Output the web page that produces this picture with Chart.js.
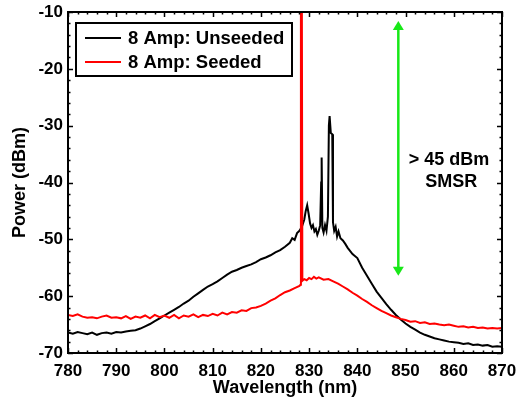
<!DOCTYPE html>
<html><head><meta charset="utf-8">
<script src="https://cdn.jsdelivr.net/npm/chart.js@4/dist/chart.umd.min.js"></script>
<style>html,body{margin:0;padding:0;background:#fff}#wrap{width:520px;height:402px}</style>
</head><body><div id="wrap"><canvas id="c" width="520" height="402"></canvas></div>
<script>
const seriesNames = ['8 Amp: Unseeded', '8 Amp: Seeded'];
const unseededWl = [780,781,782,783,784,785,786,787,788,789,790,791,792,793,794,795,796,797,798,799,800,801,802,803,804,805,806,807,808,809,810,811,812,813,814,815,816,817,818,819,820,821,822,823,824,825,826,826.5,827,827.5,828,828.5,829,829.3,829.6,829.9,830.2,830.5,830.8,831.1,831.4,831.7,832.0,832.3,832.5,832.6,832.75,833.0,833.3,833.6,833.9,834.1,834.25,834.5,834.8,834.95,835.2,835.5,835.8,836.1,836.5,837,837.5,838,839,840,841,842,843,844,845,846,847,848,849,850,851,852,853,854,855,856,857,858,859,860,861,862,863,864,865,866,867,868,869,870];
const unseededPow = [-66.4,-66.6,-66.3,-66.5,-66.7,-66.4,-66.8,-66.5,-66.4,-66.6,-66.3,-66.4,-66.2,-66.1,-66.0,-65.7,-65.3,-64.9,-64.4,-63.9,-63.4,-62.9,-62.4,-61.9,-61.3,-60.8,-60.1,-59.5,-58.9,-58.3,-57.9,-57.4,-56.8,-56.2,-55.7,-55.4,-55.0,-54.7,-54.4,-54.0,-53.5,-53.2,-52.8,-52.3,-51.9,-51.3,-50.6,-49.8,-50.1,-48.9,-48.5,-47.8,-46.5,-45.0,-44.0,-45.5,-47.2,-48.0,-47.5,-48.6,-48.2,-49.2,-48.5,-47.5,-40.0,-35.6,-48.0,-48.8,-47.5,-48.5,-46.0,-30.0,-28.3,-31.3,-31.5,-47.0,-48.5,-47.8,-49.5,-48.6,-49.8,-50.2,-50.8,-51.5,-52.6,-53.3,-55.0,-56.4,-57.8,-59.2,-60.3,-61.4,-62.4,-63.3,-64.1,-64.8,-65.4,-65.9,-66.4,-66.8,-67.1,-67.4,-67.6,-67.8,-68.0,-68.1,-68.2,-68.4,-68.3,-68.6,-68.5,-68.7,-68.6,-68.9,-68.8,-68.9];
const seededWl = [780,781,782,783,784,785,786,787,788,789,790,791,792,793,794,795,796,797,798,799,800,801,802,803,804,805,806,807,808,809,810,811,812,813,814,815,816,817,818,819,820,821,822,823,824,825,826,827,828,828.2,828.3,828.5,828.6,829,829.5,830,830.5,831,831.5,832,833,834,835,836,837,838,839,840,841,842,843,844,845,846,847,848,849,850,851,852,853,854,855,856,857,858,859,860,861,862,863,864,865,866,867,868,869,870];
const seededPow = [-63.3,-63.5,-63.2,-63.6,-63.8,-63.7,-63.9,-63.6,-63.4,-63.8,-63.7,-63.9,-63.5,-64.0,-63.6,-63.8,-63.4,-63.9,-63.3,-63.7,-63.4,-63.8,-63.3,-63.9,-63.4,-63.6,-63.2,-63.7,-63.3,-63.5,-63.1,-63.4,-62.9,-63.2,-62.8,-62.9,-62.5,-62.6,-62.1,-62.0,-61.7,-61.3,-60.8,-60.4,-59.8,-59.3,-59.0,-58.6,-58.2,-58.0,-10,-10,-57.3,-57.0,-57.2,-56.8,-57.0,-56.6,-56.9,-56.7,-57.1,-57.0,-57.4,-57.8,-58.3,-58.8,-59.4,-59.9,-60.5,-61.0,-61.6,-62.1,-62.6,-63.0,-63.4,-63.7,-64.0,-64.2,-64.5,-64.4,-64.7,-64.6,-64.9,-64.8,-65.0,-65.1,-65.0,-65.2,-65.4,-65.3,-65.5,-65.4,-65.6,-65.5,-65.7,-65.6,-65.7,-65.6];
const xTicks = [780,790,800,810,820,830,840,850,860,870];
const yTicks = [-70,-60,-50,-40,-30,-20,-10];
const xTitle = 'Wavelength (nm)';
const yTitle = 'Power (dBm)';
const arrowWl = 848.5, arrowTop = -11.6, arrowBottom = -56.4;
const noteLines = ['> 45 dBm', 'SMSR'];
const noteWl = [859.0, 859.5], notePow = [-36.1, -40.0];

const toPts = (xs, ys) => xs.map((x, i) => ({x, y: ys[i]}));
const FONT = '"Liberation Sans", Arial, sans-serif';

const decor = {
  id: 'decor',
  afterDatasetsDraw(chart) {
    const {ctx, chartArea: a, scales: {x, y}} = chart;
    ctx.save();
    ctx.strokeStyle = '#000'; ctx.lineWidth = 2;
    ctx.strokeRect(a.left, a.top, a.right - a.left, a.bottom - a.top);
    ctx.lineWidth = 1.5;
    ctx.beginPath();
    for (let v = 780; v <= 870; v += 2) {
      const px = Math.round(x.getPixelForValue(v)) + 0.5;
      const len = (v % 10 === 0) ? 5 : 2.5;
      ctx.moveTo(px, a.bottom); ctx.lineTo(px, a.bottom - len);
      ctx.moveTo(px, a.top); ctx.lineTo(px, a.top + len);
    }
    for (let v = -70; v <= -10; v += 2) {
      const py = Math.round(y.getPixelForValue(v)) + 0.5;
      const len = (v % 10 === 0) ? 5 : 2.5;
      ctx.moveTo(a.left, py); ctx.lineTo(a.left + len, py);
      ctx.moveTo(a.right, py); ctx.lineTo(a.right - len, py);
    }
    ctx.stroke();
    const ax = x.getPixelForValue(arrowWl);
    const at = y.getPixelForValue(arrowTop), ab = y.getPixelForValue(arrowBottom);
    ctx.strokeStyle = '#18e818'; ctx.fillStyle = '#18e818'; ctx.lineWidth = 2.5;
    ctx.beginPath(); ctx.moveTo(ax, at + 6); ctx.lineTo(ax, ab - 6); ctx.stroke();
    ctx.beginPath(); ctx.moveTo(ax, at); ctx.lineTo(ax - 5.5, at + 9); ctx.lineTo(ax + 5.5, at + 9); ctx.closePath(); ctx.fill();
    ctx.beginPath(); ctx.moveTo(ax, ab); ctx.lineTo(ax - 5.5, ab - 9); ctx.lineTo(ax + 5.5, ab - 9); ctx.closePath(); ctx.fill();
    ctx.fillStyle = '#000'; ctx.font = 'bold 18px ' + FONT;
    ctx.textAlign = 'center'; ctx.textBaseline = 'middle';
    noteLines.forEach((t, i) => ctx.fillText(t, x.getPixelForValue(noteWl[i]), y.getPixelForValue(notePow[i])));
    const lx = 76, ly = 23, lw = 216, lh = 53;
    ctx.fillStyle = '#fff'; ctx.fillRect(lx, ly, lw, lh);
    ctx.strokeStyle = '#000'; ctx.lineWidth = 2; ctx.strokeRect(lx, ly, lw, lh);
    const cols = ['#000', '#ff0000'];
    ctx.textAlign = 'left'; ctx.font = 'bold 18.5px ' + FONT;
    seriesNames.forEach((n, i) => {
      const yy = ly + 15 + i * 24;
      ctx.strokeStyle = cols[i]; ctx.lineWidth = 2;
      ctx.beginPath(); ctx.moveTo(lx + 9, yy); ctx.lineTo(lx + 45, yy); ctx.stroke();
      ctx.fillStyle = '#000'; ctx.fillText(n, lx + 52, yy + 1);
    });
    ctx.restore();
  }
};

new Chart(document.getElementById('c'), {
  type: 'scatter',
  data: {
    datasets: [
      {label: seriesNames[0], data: toPts(unseededWl, unseededPow), showLine: true, borderColor: '#000', borderWidth: 2, pointRadius: 0, order: 2},
      {label: seriesNames[1], data: toPts(seededWl, seededPow), showLine: true, borderColor: '#ff0000', borderWidth: 2, pointRadius: 0, order: 1}
    ]
  },
  options: {
    responsive: false, animation: false, devicePixelRatio: 1,
    layout: {padding: {top: 12, right: 18, left: 0, bottom: 0}},
    plugins: {legend: {display: false}, tooltip: {enabled: false}},
    scales: {
      x: {
        type: 'linear', min: 780, max: 870,
        afterBuildTicks: s => { s.ticks = xTicks.map(v => ({value: v})); },
        afterFit: s => { s.height = 49; s.paddingLeft = 0; s.paddingRight = 0; },
        grid: {display: false, drawTicks: false}, border: {display: false},
        ticks: {color: '#000', font: {family: FONT, size: 17, weight: 'bold'}, padding: 8, maxRotation: 0, autoSkip: false},
        title: {display: true, text: xTitle, color: '#000', font: {family: FONT, size: 18, weight: 'bold'}, padding: {top: 0, bottom: 3}}
      },
      y: {
        min: -70, max: -10,
        afterBuildTicks: s => { s.ticks = yTicks.map(v => ({value: v})); },
        afterFit: s => { s.width = 68; s.paddingTop = 0; s.paddingBottom = 0; },
        grid: {display: false, drawTicks: false}, border: {display: false},
        ticks: {color: '#000', font: {family: FONT, size: 17, weight: 'bold'}, padding: 5, autoSkip: false},
        title: {display: true, text: yTitle, color: '#000', font: {family: FONT, size: 18, weight: 'bold'}, padding: {top: 9, bottom: 0}}
      }
    }
  },
  plugins: [decor]
});
</script></body></html>
